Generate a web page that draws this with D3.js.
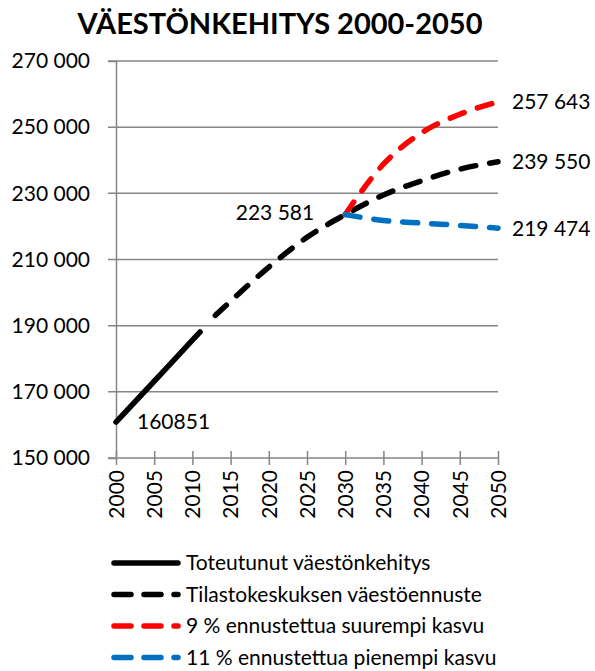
<!DOCTYPE html>
<html>
<head>
<meta charset="utf-8">
<script src="https://cdn.jsdelivr.net/npm/d3@7"></script>
<style>
  body { margin: 0; background: #fff; }
  svg { display: block; }
  text { font-family: Lato, "Open Sans", sans-serif; fill: #000; }
</style>
</head>
<body>
<svg id="chart" width="595" height="671"></svg>
<script>
// population
const actualYears = [2000, 2005, 2010, 2011];
const actualValues = [160851, 173200, 185600, 188100];

const forecastYears = [2013, 2015, 2020, 2025, 2030, 2035, 2040, 2045, 2050];
const forecastValues = [193100, 197400, 207700, 216700, 223581, 229500, 233800, 237300, 239550];

const highYears = [2030, 2032, 2035, 2040, 2045, 2050];
const highValues = [223581, 230200, 238800, 248300, 253900, 257643];

const lowYears = [2030, 2035, 2040, 2045, 2050];
const lowValues = [223581, 221800, 221000, 220300, 219474];

const yTicks = [150000, 170000, 190000, 210000, 230000, 250000, 270000];
const xTicks = [2000, 2005, 2010, 2015, 2020, 2025, 2030, 2035, 2040, 2045, 2050];

const legendNames = [
    "Toteutunut väestönkehitys",
    "Tilastokeskuksen väestöennuste",
    "9 % ennustettua suurempi kasvu",
    "11 % ennustettua pienempi kasvu"
];
const legendColors = ["#000", "#000", "#ff0000", "#0070c0"];

const fmt = d => d3.format(",")(d).replace(/,/g, " ");

const svg = d3.select("#chart");
const x = d3.scaleLinear().domain([2000, 2050]).range([116, 498]);
const y = d3.scaleLinear().domain([150000, 270000]).range([458, 61]);

// title
svg.append("text")
    .attr("x", 280).attr("y", 34)
    .attr("text-anchor", "middle")
    .style("font-size", "29px").style("font-weight", "bold")
    .text("VÄESTÖNKEHITYS 2000-2050");

// gridlines + y axis
const yAxis = svg.append("g")
    .attr("transform", "translate(116,0)")
    .call(d3.axisLeft(y).tickValues(yTicks).tickSize(8).tickFormat(fmt));
yAxis.select(".domain").attr("stroke", "#868686").attr("stroke-width", 1.5);
yAxis.selectAll(".tick line").remove();
yAxis.selectAll(".tick text")
    .attr("x", -26)
    .style("font-size", "21px").style("font-family", "Lato, sans-serif");

svg.append("g").selectAll("line")
    .data(yTicks.slice(1))
    .join("line")
    .attr("x1", 108).attr("x2", x(2050))
    .attr("y1", d => y(d)).attr("y2", d => y(d))
    .attr("stroke", "#868686").attr("stroke-width", 1.5);

// x axis
const xAxis = svg.append("g")
    .attr("transform", "translate(0," + y(150000) + ")")
    .call(d3.axisBottom(x).tickValues(xTicks).tickSize(7).tickSizeOuter(0).tickFormat(d3.format("d")));
xAxis.select(".domain").attr("d", "M108,0H" + x(2050)).attr("stroke", "#868686").attr("stroke-width", 1.5);
xAxis.selectAll(".tick line").attr("y1", -7).attr("y2", 7).attr("stroke", "#868686").attr("stroke-width", 1.5);
xAxis.selectAll(".tick text")
    .attr("transform", "rotate(-90)")
    .attr("x", -12).attr("y", 0).attr("dy", "0.35em")
    .attr("text-anchor", "end")
    .style("font-size", "21px").style("font-family", "Lato, sans-serif");

// lines
const line = d3.line()
    .x(d => x(d[0]))
    .y(d => y(d[1]))
    .curve(d3.curveMonotoneX);

const series = [
    { years: actualYears, values: actualValues, color: "#000", dash: null },
    { years: forecastYears, values: forecastValues, color: "#000", dash: "15,14" },
    { years: highYears, values: highValues, color: "#ff0000", dash: "15,14" },
    { years: lowYears, values: lowValues, color: "#0070c0", dash: "15,14" }
];

svg.append("g").selectAll("path")
    .data(series)
    .join("path")
    .attr("d", s => line(d3.zip(s.years, s.values)))
    .attr("fill", "none")
    .attr("stroke", s => s.color)
    .attr("stroke-width", 5.5)
    .attr("stroke-linecap", "round")
    .attr("stroke-dasharray", s => s.dash);

// value labels
const labels = [
    { year: 2000, value: 160851, text: "160851", dx: 21, anchor: "start" },
    { year: 2030, value: 223581, text: fmt(223581), dx: -31, anchor: "end", dy: -2 },
    { year: 2050, value: 257643, text: fmt(257643), dx: 14, anchor: "start" },
    { year: 2050, value: 239550, text: fmt(239550), dx: 14, anchor: "start" },
    { year: 2050, value: 219474, text: fmt(219474), dx: 14, anchor: "start" }
];
svg.append("g").selectAll("text")
    .data(labels)
    .join("text")
    .attr("x", d => x(d.year) + d.dx)
    .attr("y", d => y(d.value) + (d.dy || 0))
    .attr("dy", "0.35em")
    .attr("text-anchor", d => d.anchor)
    .style("font-size", "21px")
    .text(d => d.text);

// legend
const legend = svg.append("g").selectAll("g")
    .data(legendNames)
    .join("g")
    .attr("transform", (d, i) => "translate(0," + (563 + i * 31.5) + ")");
legend.append("line")
    .attr("x1", 114).attr("x2", 178)
    .attr("stroke", (d, i) => legendColors[i])
    .attr("stroke-width", 5.5)
    .attr("stroke-linecap", "round")
    .attr("stroke-dasharray", (d, i) => i === 0 ? null : "17,13");
legend.append("text")
    .attr("x", 186).attr("dy", "0.35em")
    .style("font-size", "21px")
    .text(d => d);
</script>
</body>
</html>
